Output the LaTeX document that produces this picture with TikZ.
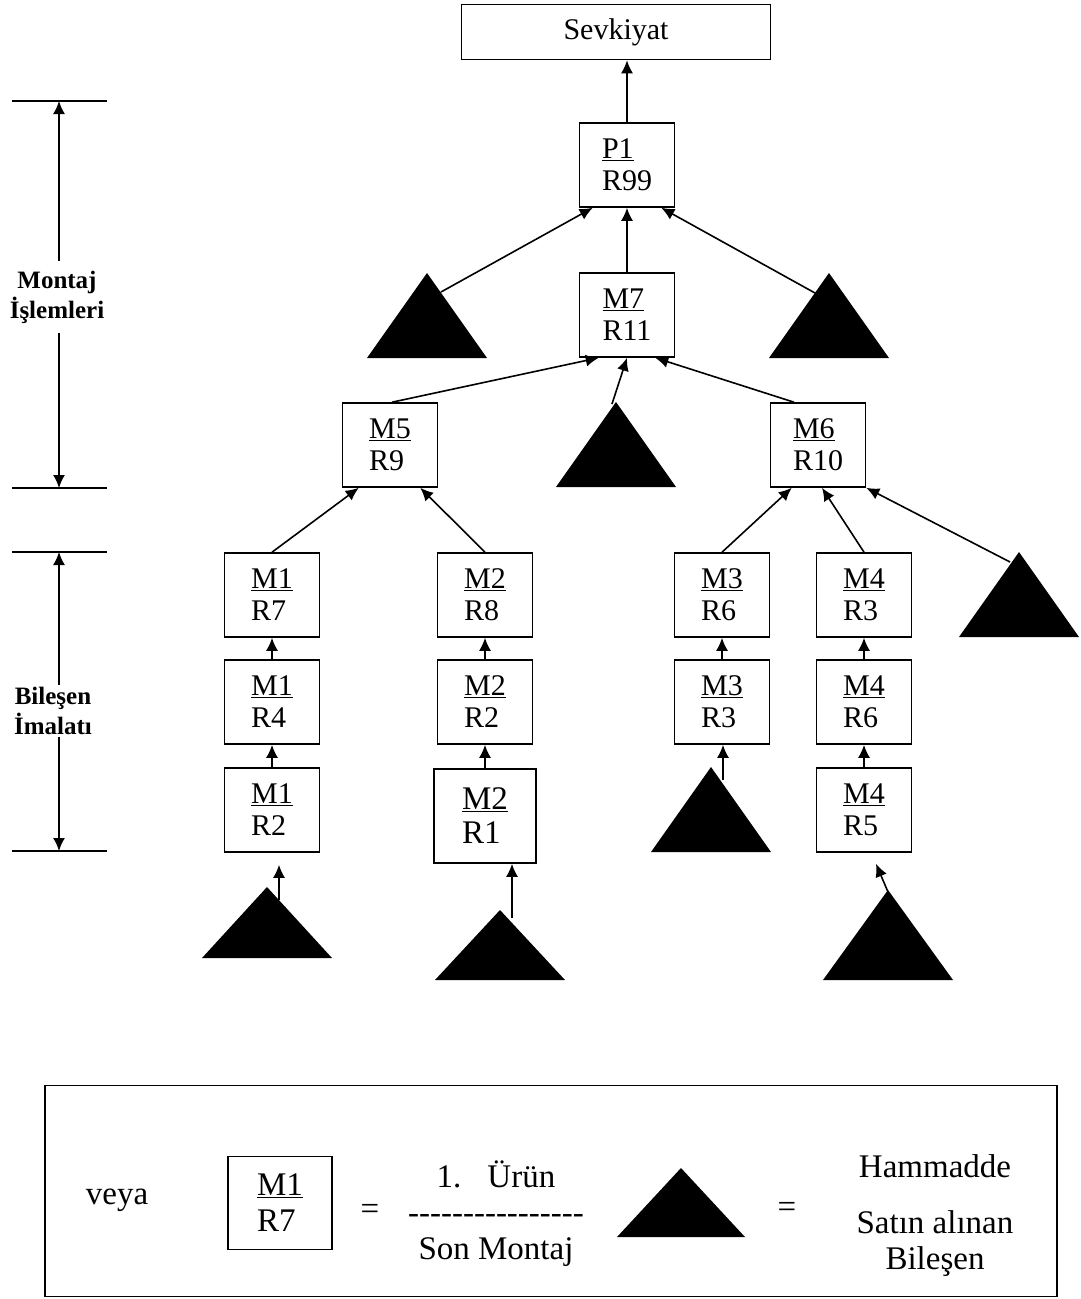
\documentclass[tikz,border=0pt]{standalone}
\usepackage{fontspec}
\usetikzlibrary{arrows.meta}
\setmainfont{Liberation Serif}
% filled triangle: apex x, apex y, half base, height
\newcommand\hamm[4]{\fill (#1,#2) -- ++(-#3,#4) -- ++(2*#3,0) -- cycle;}
\newcommand\dashrow{\foreach \i in {1,...,16}{-\kern0pt}}
\begin{document}
\begin{tikzpicture}[x=1pt,y=-1pt,
    font=\fontsize{30}{32}\selectfont,
    box/.style={draw,line width=1.6,minimum width=95,minimum height=84,align=left,inner sep=0pt},
    side/.style={font=\bfseries\fontsize{25}{30}\selectfont,align=center,inner xsep=0pt},
    big/.style={font=\fontsize{33}{36}\selectfont},
    arr/.style={-{Latex[length=13pt,width=12pt]},line width=1.6}
]
\useasboundingbox (0,0) rectangle (1081,1299);

\node[draw,line width=1.6,minimum width=309,minimum height=55] (sevk) at (616,32) {Sevkiyat};
\node[box] (p1)  at (627,165) {\underline{P1}\\R99};
\node[box] (m7)  at (627,315) {\underline{M7}\\R11};
\node[box] (m5)  at (390,445) {\underline{M5}\\R9};
\node[box] (m6)  at (818,445) {\underline{M6}\\R10};
\node[box] (m1a) at (272,595) {\underline{M1}\\R7};
\node[box] (m1b) at (272,702) {\underline{M1}\\R4};
\node[box] (m1c) at (272,810) {\underline{M1}\\R2};
\node[box] (m2a) at (485,595) {\underline{M2}\\R8};
\node[box] (m2b) at (485,702) {\underline{M2}\\R2};
\node[box,font=\fontsize{33}{34}\selectfont,minimum width=102,minimum height=94] (m2c) at (485,816) {\underline{M2}\\R1};
\node[box] (m3a) at (722,595) {\underline{M3}\\R6};
\node[box] (m3b) at (722,702) {\underline{M3}\\R3};
\node[box] (m4a) at (864,595) {\underline{M4}\\R3};
\node[box] (m4b) at (864,702) {\underline{M4}\\R6};
\node[box] (m4c) at (864,810) {\underline{M4}\\R5};

% raw materials
\hamm{427}{273}{60}{85}
\hamm{829}{273}{60}{85}
\hamm{616}{402}{60}{85}
\hamm{1019}{552}{60}{85}
\hamm{267}{887}{65}{71}
\hamm{500}{910}{65}{70}
\hamm{711}{767}{60}{85}
\hamm{888}{890}{65}{90}
\coordinate (tl) at (441,292);
\coordinate (tr) at (815,293);
\coordinate (tm) at (612,404);
\coordinate (t6) at (1010,562);
\coordinate (t1) at (279,900);
\coordinate (t2) at (512,918);
\coordinate (t3) at (723,780);
\coordinate (t4) at (888,892);

\draw[arr] (p1.north) -- (p1.north |- sevk.south);
\draw[arr] (m7) -- (p1);
\draw[arr] (tl) -- ([xshift=14pt]p1.south west);
\draw[arr] (tr) -- ([xshift=-14pt]p1.south east);
\draw[arr] ([xshift=2pt]m5.north) -- ([xshift=20pt]m7.south west);
\draw[arr] (tm) -- (m7.south);
\draw[arr] ([xshift=-24pt]m6.north) -- ([xshift=-20pt]m7.south east);
\draw[arr] (m1a.north) -- ([xshift=17pt]m5.south west);
\draw[arr] (m2a.north) -- ([xshift=-18pt]m5.south east);
\draw[arr] (m3a.north) -- ([xshift=22pt]m6.south west);
\draw[arr] (m4a.north) -- ([xshift=4pt]m6.south);
\draw[arr] (t6) -- (m6.south east);
\foreach \a/\b in {m1b/m1a,m1c/m1b,m2b/m2a,m2c/m2b,m3b/m3a,m4b/m4a,m4c/m4b}
    \draw[arr] (\a) -- (\b);
\draw[arr] (t1) -- ([xshift=7pt,yshift=-12pt]m1c.south);
\draw[arr] (t2) -- ([xshift=27pt]m2c.south);
\draw[arr] (t3) -- ([xshift=1pt]m3b.south);
\draw[arr] (t4) -- ([xshift=12pt,yshift=-11pt]m4c.south);

% side scale
\foreach \y in {101,488,552,851}
    \draw[line width=1.3] (12,\y) -- (107,\y);
\coordinate (s1) at (59,101);
\coordinate (s2) at (59,488);
\coordinate (s3) at (59,552);
\coordinate (s4) at (59,851);
\node[side,inner ysep=10pt] (mont) at (57,297) {Montaj\\İşlemleri};
\node[side,inner ysep=2pt] (bil) at (53,711) {Bileşen\\İmalatı};
\draw[arr] (s1 |- mont.north) -- (s1);
\draw[arr] (s2 |- mont.south) -- (s2);
\draw[arr] (s3 |- bil.north) -- (s3);
\draw[arr] (s4 |- bil.south) -- (s4);

% legend
\node[draw,line width=1.6,minimum width=1012,minimum height=211] (leg) at (551,1191) {};
\node[big] (veya) at (117,1200) {veya};
\node[box,big,minimum width=104,minimum height=93] (key) at (280,1203) {\underline{M1}\\R7};
\node[big] (eq1) at (370,1212) {=};
\node[big,align=center] (urun) at (496,1214) {1.\hspace{26pt}Ürün\\\dashrow\\Son Montaj};
\hamm{681}{1168}{64}{69}
\node[big] (eq2) at (787,1210) {=};
\node[big,align=center] (hamm) at (935,1216) {Hammadde\\[20pt]Satın alınan\\Bileşen};
\end{tikzpicture}
\end{document}
